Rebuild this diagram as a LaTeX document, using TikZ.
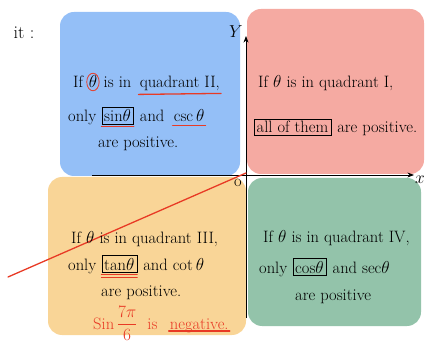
\documentclass[tikz,border=0pt]{standalone}
\usepackage{amsmath}
\usepackage{fontspec}
\usetikzlibrary{arrows.meta,positioning,shapes.geometric}
\definecolor{qblue}{HTML}{94BFF7}
\definecolor{qpink}{HTML}{F5AAA2}
\definecolor{qorange}{HTML}{F9D597}
\definecolor{qgreen}{HTML}{93C3AA}
\definecolor{hred}{HTML}{E83A25}
\newcommand{\widesp}{\spaceskip=5pt plus 1pt\relax}

\begin{document}
\begin{tikzpicture}[x=1pt, y=-1pt, >=Stealth, node distance=4pt,
  quad/.style={rounded corners=14pt, inner sep=0pt},
  txt/.style={inner sep=1pt, font=\fontsize{16.5}{18}\selectfont\widesp},
  boxed/.style={txt, draw, thin, inner sep=2.5pt},
  circled/.style={txt, ellipse, draw=hred, thick, inner sep=0.2pt},
  redmark/.style={draw=hred, line width=1.3pt, line cap=round}]
  \useasboundingbox (0,0) rectangle (425,344);

  % quadrants
  \node[quad, fill=qblue, minimum width=180pt, minimum height=164pt] (q2) at (150,94) {};
  \node[quad, fill=qpink, minimum width=177pt, minimum height=165pt] (q1) at (335.5,91.5) {};
  \node[quad, fill=qorange, minimum width=198pt, minimum height=158pt] (q3) at (147,256) {};
  \node[quad, fill=qgreen, minimum width=173pt, minimum height=148pt] (q4) at (334.5,252) {};

  % axes
  \coordinate (xbeg) at (92,175);
  \coordinate (xend) at (414,175);
  \coordinate (ybeg) at (246,318);
  \coordinate (yend) at (246,36);
  \draw[->, thick] (xbeg) -- (xend);
  \draw[->, thick] (ybeg) -- (yend);
  \node[txt] (xlab) at (420,180) {$x$};
  \node[txt] (ylab) at (236,32) {$Y$};
  \node[txt] (orig) at (238,183) {o};
  \node[txt, font=\fontsize{18}{20}\selectfont] (it) at (24,33) {it :};

  % red line through the origin
  \coordinate (rbeg) at (8,277);
  \coordinate (rend) at (246,173);
  \draw[redmark] (rbeg) -- (rend);

  % quadrant II
  \node[txt, anchor=base west] (q2a) at (72,88) {If};
  \node[circled, base right=2pt of q2a] (q2th) {$\theta$};
  \node[txt, base right=3pt of q2th] (q2b) {is in};
  \node[txt, base right=6pt of q2b] (q2q) {quadrant II,};
  \draw[redmark] ([yshift=-2pt]q2q.south west) -- ([yshift=-1pt]q2q.south east);
  \node[txt, anchor=base west] (q2c) at (67,122) {only};
  \node[boxed, base right=4pt of q2c] (q2sin) {sin$\theta$};
  \node[txt, base right=5pt of q2sin] (q2d) {and};
  \node[txt, base right=7pt of q2d] (q2csc) {csc$\,\theta$};
  \draw[redmark] ([yshift=-2pt]q2sin.south west) -- ([yshift=-2pt]q2sin.south east);
  \draw[redmark] ([yshift=-2pt]q2csc.south west) -- ([yshift=-2pt]q2csc.south east);
  \node[txt, anchor=base west] (q2e) at (97,148) {are positive.};

  % quadrant I
  \node[txt, anchor=base west] (q1a) at (257,88) {If $\theta$ is in quadrant I,};
  \node[boxed, anchor=base west] (q1all) at (254,133) {all of them};
  \node[txt, base right=5pt of q1all] (q1b) {are positive.};

  % quadrant III
  \node[txt, anchor=base west] (q3a) at (70,244) {If $\theta$ is in quadrant III,};
  \node[txt, anchor=base west] (q3b) at (67,270) {only};
  \node[boxed, base right=4pt of q3b] (q3tan) {tan$\theta$};
  \node[txt, base right=5pt of q3tan] (q3c) {and cot$\,\theta$};
  \draw[redmark] ([yshift=-2pt]q3tan.south west) -- ([yshift=-2pt]q3tan.south east);
  \draw[redmark] ([yshift=-4.5pt]q3tan.south west) -- ([yshift=-4.5pt]q3tan.south east);
  \node[txt, anchor=base west] (q3d) at (100,296) {are positive.};
  \node[txt, text=hred, anchor=base west] (q3s) at (92,329) {Sin\,$\dfrac{7\pi}{6}$\ \ is};
  \node[txt, text=hred, base right=10pt of q3s] (q3neg) {negative.};
  \draw[redmark] ([yshift=-2pt]q3neg.base west) -- ([yshift=-2pt]q3neg.base east);

  % quadrant IV
  \node[txt, anchor=base west] (q4a) at (262,243) {If $\theta$ is in quadrant IV,};
  \node[txt, anchor=base west] (q4b) at (258,273) {only};
  \node[boxed, base right=4pt of q4b] (q4cos) {cos$\theta$};
  \node[txt, base right=5pt of q4cos] (q4c) {and sec$\theta$};
  \node[txt, anchor=base west] (q4d) at (294,300) {are positive};
\end{tikzpicture}
\end{document}
